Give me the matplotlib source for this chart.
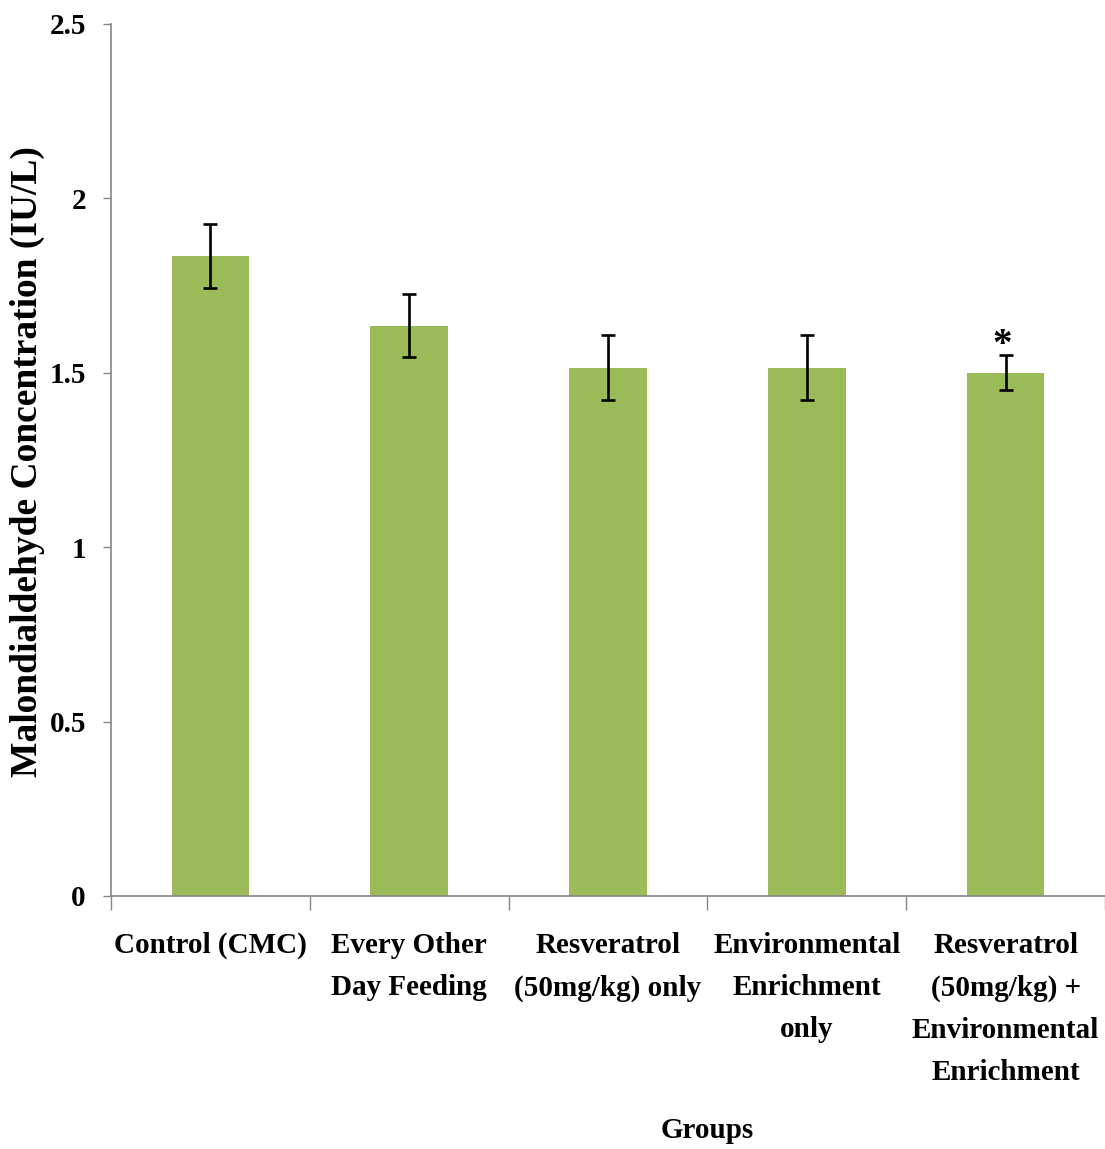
import numpy as np
import matplotlib
matplotlib.use('Agg')
import matplotlib.pyplot as plt
from matplotlib.ticker import FixedLocator

# datos
grupos = ['Control (CMC)', 'Every Other\nDay Feeding', 'Resveratrol\n(50mg/kg) only',
          'Environmental\nEnrichment\nonly', 'Resveratrol\n(50mg/kg) +\nEnvironmental\nEnrichment']
mda = [1.835, 1.635, 1.515, 1.515, 1.500]
err = [0.093, 0.090, 0.092, 0.092, 0.050]
marca = ['', '', '', '', '*']
yticks = [0, 0.5, 1, 1.5, 2, 2.5]
ytick_labels = ['0', '0.5', '1', '1.5', '2', '2.5']

plt.rcParams['font.family'] = ['Liberation Serif', 'DejaVu Serif']
plt.rcParams['font.weight'] = 'bold'

fig = plt.figure(figsize=(11.05, 11.49), dpi=100)
ax = fig.add_axes([111/1105, 1 - 896/1149, 1 - 111/1105, (896 - 24)/1149])

x = np.arange(len(grupos))
ax.bar(x, mda, width=0.39, color='#9BBB59', zorder=2)
ax.errorbar(x, mda, yerr=err, fmt='none', ecolor='black', elinewidth=1.9,
            capsize=5, capthick=1.9, zorder=3)
for xi, v, e, m in zip(x, mda, err, marca):
    if m:
        ax.text(xi - 0.015, v + e - 0.025, m, ha='center', va='bottom', fontsize=28, fontweight='bold')

ax.set_xlim(-0.5, len(grupos) - 0.5)
ax.set_ylim(0, 2.5)
ax.set_yticks(yticks)
ax.set_yticklabels(ytick_labels, fontsize=21, fontweight='bold')
ax.set_xticks(x)
ax.set_xticklabels(grupos, fontsize=21, fontweight='bold', linespacing=1.72, va='top')
ax.xaxis.set_minor_locator(FixedLocator(np.arange(-0.5, len(grupos), 1.0)))
ax.tick_params(axis='x', which='major', length=0, pad=26)
ax.tick_params(axis='x', which='minor', length=10, width=1, color='#868686', direction='out')
ax.tick_params(axis='y', length=6, width=1, color='#868686', direction='out', pad=12)

for s in ['top', 'right']:
    ax.spines[s].set_visible(False)
for s in ['left', 'bottom']:
    ax.spines[s].set_color('#868686')
    ax.spines[s].set_linewidth(1.2)

fig.text(27/1105, 1 - 462/1149, 'Malondialdehyde Concentration (IU/L)', rotation=90,
         ha='center', va='center', fontsize=27, fontweight='bold')
fig.text(707/1105, 1 - 1130/1149, 'Groups', ha='center', va='center', fontsize=21, fontweight='bold')

fig.savefig('out.png', dpi=100)
